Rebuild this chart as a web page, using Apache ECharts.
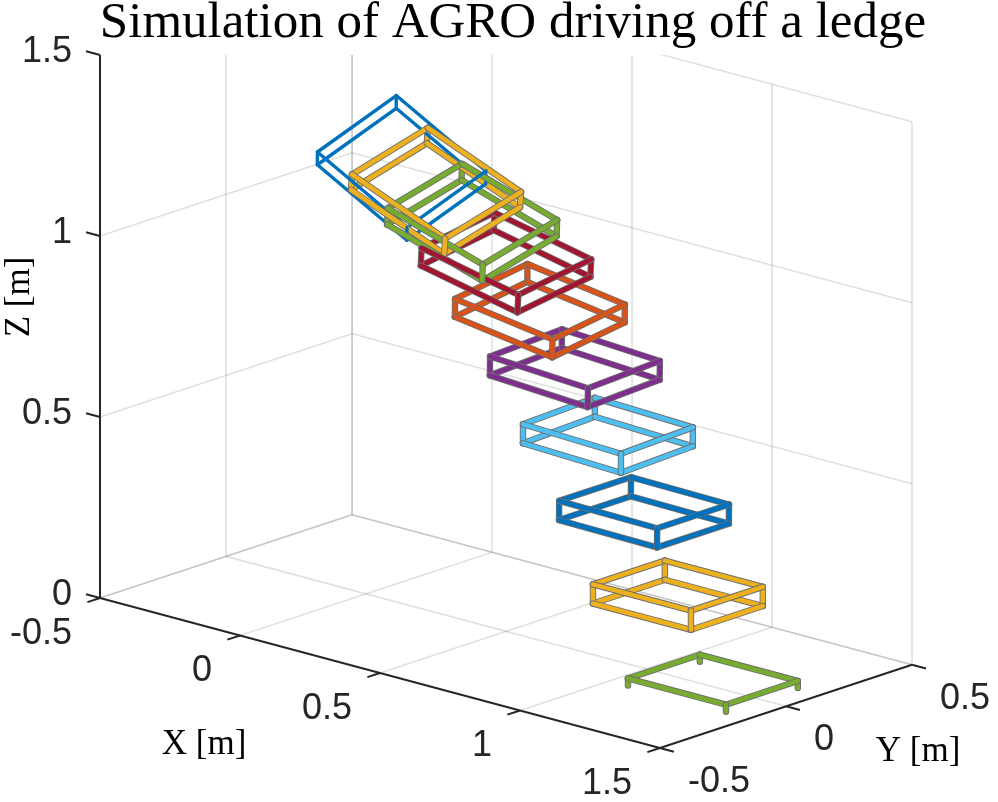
<!DOCTYPE html>
<html>
<head>
<meta charset="utf-8">
<script src="https://cdn.jsdelivr.net/npm/echarts@6/dist/echarts.min.js"></script>
<style>
html, body { margin: 0; padding: 0; background: #fff; }
#main { width: 998px; height: 802px; }
</style>
</head>
<body>
<div id="main"></div>
<script>
// axis ticks
var xTicks = [-0.5, 0, 0.5, 1, 1.5];
var yTicks = [-0.5, 0, 0.5];
var zTicks = [0, 0.5, 1, 1.5];

// robot frames (centre position in m, attitude in deg)
var frameX = [0.127, 0.25, 0.379, 0.5, 0.621, 0.746, 0.864, 0.993, 1.114, 1.239];
var frameY = [0, 0, 0, 0, 0, 0, 0, 0, 0, 0];
var frameZ = [1.203, 1.165, 1.105, 1.019, 0.911, 0.778, 0.617, 0.431, 0.227, -0.007];
var framePitch = [24, 18, 14, 9.5, 6.5, 2.5, 1.5, 0.5, 0, 0];
var frameRoll = [24, 15, 13, 7, 6.5, 2, 1.5, 0, 0, 0];

// robot body size (m)
var bodyL = 0.35, bodyW = 0.285, bodyH = 0.053;

// matlab colour order, one per frame
var frameColor = ['#0072BD', '#EDB120', '#77AC30', '#A2142F', '#D95319', '#7E2F8E', '#4DBEEE', '#0072BD', '#EDB120', '#77AC30'];

// camera like view(42, 17.2)
var AZ = 42, EL = 17.2;
var rad = Math.PI / 180;
var ca = Math.cos(AZ * rad), sa = Math.sin(AZ * rad);
var ce = Math.cos(EL * rad), se = Math.sin(EL * rad);

function proj(p){
    return [p[0] * ca + p[1] * sa, -p[0] * sa * se + p[1] * ca * se + p[2] * ce];
}
function depth(p){
    return p[0] * sa * ce - p[1] * ca * ce + p[2] * se;
}

var xMin = xTicks[0], xMax = xTicks[xTicks.length - 1];
var yMin = yTicks[0], yMax = yTicks[yTicks.length - 1];
var zMin = zTicks[0], zMax = zTicks[zTicks.length - 1];

// fit the projected box into the picture
var c0 = proj([xMin, yMin, zMin]);
var kx = 812 / (proj([xMax, yMax, zMin])[0] - c0[0]);
var ky = 543 / (proj([xMin, yMin, zMax])[1] - c0[1]);
var uMin = c0[0] - 100 / kx, uMax = uMin + 998 / kx;
var vMax = c0[1] + 543 / ky, vMin = c0[1] - 204 / ky;

function seg(a, b){
    var p = proj(a), q = proj(b);
    return [p[0], p[1], q[0], q[1]];
}

// grid lines on the three back planes
var gridSegs = [];
xTicks.forEach(function(x){ if (x != xMax) gridSegs.push(seg([x, yMin, zMin], [x, yMax, zMin])); });
yTicks.forEach(function(y){ if (y != yMin) gridSegs.push(seg([xMin, y, zMin], [xMax, y, zMin])); });
yTicks.forEach(function(y){ if (y != yMin) gridSegs.push(seg([xMin, y, zMin], [xMin, y, zMax])); });
zTicks.forEach(function(z){ gridSegs.push(seg([xMin, yMin, z], [xMin, yMax, z])); });
xTicks.forEach(function(x){ gridSegs.push(seg([x, yMax, zMin], [x, yMax, zMax])); });
zTicks.forEach(function(z){ gridSegs.push(seg([xMin, yMax, z], [xMax, yMax, z])); });

// axis lines and ticks
var tl = 0.05;
var axisSegs = [
    seg([xMin, yMin, zMin], [xMax, yMin, zMin]),
    seg([xMax, yMin, zMin], [xMax, yMax, zMin]),
    seg([xMin, yMin, zMin], [xMin, yMin, zMax])
];
xTicks.forEach(function(x){ axisSegs.push(seg([x, yMin, zMin], [x, yMin - tl, zMin])); });
yTicks.forEach(function(y){ axisSegs.push(seg([xMax, y, zMin], [xMax + tl, y, zMin])); });
zTicks.forEach(function(z){ axisSegs.push(seg([xMin, yMin, z], [xMin - tl, yMin, z])); });

// tick labels
var labelSpecs = [];
var labelData = [];
function addLabel(p, text, align, dx, dy){
    var q = proj(p);
    labelData.push([q[0], q[1]]);
    labelSpecs.push({text: text, align: align, dx: dx, dy: dy});
}
zTicks.forEach(function(z){ addLabel([xMin, yMin, z], String(z), 'right', -28, -3); });
xTicks.forEach(function(x){ addLabel([x, yMin, zMin], String(x), 'right', -28, 36); });
yTicks.forEach(function(y){ addLabel([xMax, y, zMin], String(y), 'left', 28, 34); });

// robot boxes
function bodyCorner(i, sx, sy, sz){
    var th = framePitch[i] * rad, ph = frameRoll[i] * rad;
    var x = sx * bodyL / 2, y = sy * bodyW / 2, z = sz * bodyH / 2;
    // roll about x
    var y1 = y * Math.cos(ph) - z * Math.sin(ph);
    var z1 = y * Math.sin(ph) + z * Math.cos(ph);
    // pitch about y, nose down
    var x2 = x * Math.cos(th) + z1 * Math.sin(th);
    var z2 = -x * Math.sin(th) + z1 * Math.cos(th);
    return [frameX[i] + x2, frameY[i] + y1, frameZ[i] + z2];
}
function clipFloor(a, b){
    if (a[2] >= zMin && b[2] >= zMin) return [a, b];
    if (a[2] < zMin && b[2] < zMin) return null;
    if (a[2] < zMin){ var t = a; a = b; b = t; }
    var s = (a[2] - zMin) / (a[2] - b[2]);
    return [a, [a[0] + s * (b[0] - a[0]), a[1] + s * (b[1] - a[1]), zMin]];
}
var boxSegs = [];
for (var i = 0; i < frameX.length; i++){
    var signs = [-1, 1];
    var edges = [];
    signs.forEach(function(sy){ signs.forEach(function(sz){ edges.push([[-1, sy, sz], [1, sy, sz]]); }); });
    signs.forEach(function(sx){ signs.forEach(function(sz){ edges.push([[sx, -1, sz], [sx, 1, sz]]); }); });
    signs.forEach(function(sx){ signs.forEach(function(sy){ edges.push([[sx, sy, -1], [sx, sy, 1]]); }); });
    edges.forEach(function(e){
        var a = bodyCorner(i, e[0][0], e[0][1], e[0][2]);
        var b = bodyCorner(i, e[1][0], e[1][1], e[1][2]);
        var c = clipFloor(a, b);
        if (!c) return;
        var s = seg(c[0], c[1]);
        var mid = [(c[0][0] + c[1][0]) / 2, (c[0][1] + c[1][1]) / 2, (c[0][2] + c[1][2]) / 2];
        boxSegs.push(s.concat([i, depth(mid)]));
    });
}
boxSegs.sort(function(a, b){ return a[5] - b[5]; });

function lineShape(api){
    var p1 = api.coord([api.value(0), api.value(1)]);
    var p2 = api.coord([api.value(2), api.value(3)]);
    return {x1: p1[0], y1: p1[1], x2: p2[0], y2: p2[1]};
}

var chartDom = document.getElementById('main');
var myChart = echarts.init(chartDom);
var option = {
    animation: false,
    title: {
        text: 'Simulation of AGRO driving off a ledge',
        left: 508,
        textAlign: 'center',
        top: -7,
        textStyle: {fontFamily: 'Liberation Serif', fontSize: 51, fontWeight: 'normal', color: '#000'}
    },
    grid: {left: 0, right: 0, top: 55, bottom: 0},
    xAxis: {type: 'value', min: uMin, max: uMax, show: false},
    yAxis: {type: 'value', min: vMin, max: vMax, show: false},
    graphic: [
        {type: 'text', x: 204, y: 745, style: {text: 'X [m]', fontFamily: 'Liberation Serif', fontSize: 35, fill: '#000', align: 'center', verticalAlign: 'middle'}},
        {type: 'text', x: 918, y: 752, style: {text: 'Y [m]', fontFamily: 'Liberation Serif', fontSize: 35, fill: '#000', align: 'center', verticalAlign: 'middle'}},
        {type: 'text', x: 20, y: 297, rotation: Math.PI / 2, style: {text: 'Z [m]', fontFamily: 'Liberation Serif', fontSize: 35, fill: '#000', align: 'center', verticalAlign: 'middle'}}
    ],
    series: [{
        type: 'custom',
        name: 'grid',
        clip: true,
        data: gridSegs,
        renderItem: function(params, api){
            return {type: 'line', shape: lineShape(api), style: {stroke: 'rgba(38,38,38,0.14)', lineWidth: 1.6}};
        }
    }, {
        type: 'custom',
        name: 'frames',
        clip: true,
        data: boxSegs,
        renderItem: function(params, api){
            var k = api.value(4);
            var shape = lineShape(api);
            if (k == 0){
                return {type: 'line', shape: shape, style: {stroke: frameColor[k], lineWidth: 3.4, lineCap: 'round'}};
            }
            return {type: 'group', children: [
                {type: 'line', shape: shape, style: {stroke: '#6e6e6e', lineWidth: 6.4, lineCap: 'round'}},
                {type: 'line', shape: shape, style: {stroke: frameColor[k], lineWidth: 4.6, lineCap: 'round'}}
            ]};
        }
    }, {
        type: 'custom',
        name: 'axes',
        clip: false,
        data: axisSegs,
        renderItem: function(params, api){
            return {type: 'line', shape: lineShape(api), style: {stroke: '#262626', lineWidth: 2}};
        }
    }, {
        type: 'custom',
        name: 'ticklabels',
        clip: false,
        data: labelData,
        renderItem: function(params, api){
            var sp = labelSpecs[params.dataIndex];
            var p = api.coord([api.value(0), api.value(1)]);
            return {type: 'text', x: p[0] + sp.dx, y: p[1] + sp.dy, style: {
                text: sp.text, fontFamily: 'Liberation Sans', fontSize: 36, fill: '#262626',
                align: sp.align, verticalAlign: 'middle'
            }};
        }
    }]
};
option && myChart.setOption(option);
</script>
</body>
</html>
